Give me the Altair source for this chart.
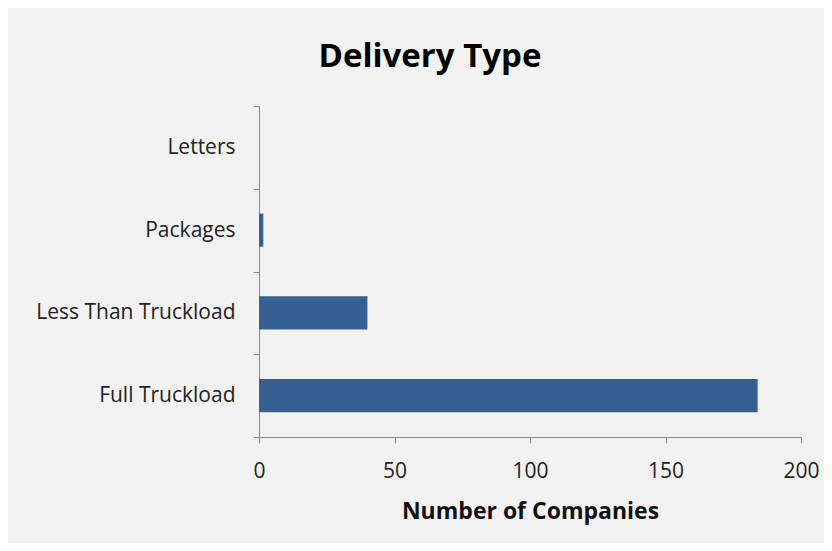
import altair as alt
import pandas as pd

categories = ["Letters", "Packages", "Less Than Truckload", "Full Truckload"]
values = [0, 1.6, 40, 184]

df = pd.DataFrame({"type": categories, "count": values})

FONT = "Open Sans"

chart = alt.Chart(df).mark_bar(color="#376092", height=alt.RelativeBandSize(0.4)).encode(
    x=alt.X("count:Q",
            scale=alt.Scale(domain=[0, 200], nice=False),
            axis=alt.Axis(values=[0, 50, 100, 150, 200], grid=False,
                          title="Number of Companies",
                          titleFont=FONT, titleFontSize=23, titleFontWeight="bold",
                          titleColor="#111111", titlePadding=19,
                          labelFont=FONT, labelFontSize=21, labelColor="#222222",
                          labelPadding=17, tickSize=6, tickColor="#888888",
                          domainColor="#888888", labelFlush=False)),
    y=alt.Y("type:N", sort=categories,
            scale=alt.Scale(paddingInner=0, paddingOuter=0),
            axis=alt.Axis(title=None, tickBand="extent", tickSize=6,
                          tickColor="#888888", domainColor="#888888",
                          labelFont=FONT, labelFontSize=21, labelColor="#222222",
                          labelPadding=18, labelLimit=400)),
).properties(
    width=542, height=331,
    title=alt.TitleParams("Delivery Type", font=FONT, fontSize=33,
                          fontWeight="bold", color="#000000", offset=21, dx=-100),
    background="#f2f2f2",
    padding={"left": 251, "top": 98, "right": 23, "bottom": 106},
    autosize=alt.AutoSizeParams(type="none"),
).configure_view(stroke=None)

chart.save("out.html", embed_options={"renderer": "svg", "actions": False})
